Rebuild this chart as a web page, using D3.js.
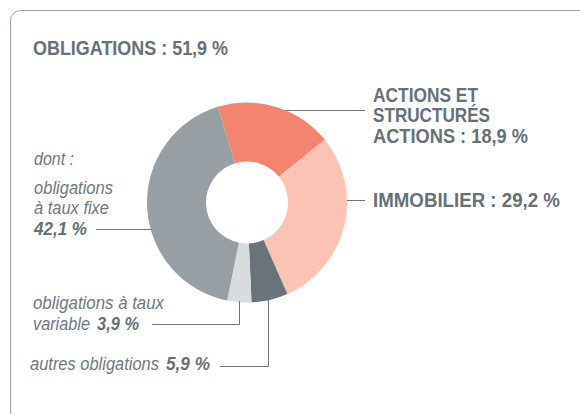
<!doctype html>
<html>
  <head>
    <meta charset="utf-8">
    <script src="https://cdn.jsdelivr.net/npm/d3@7/dist/d3.min.js"></script>
    <style>
      body { margin: 0; background: #fff; }
      text { font-family: "Liberation Sans", Arial, sans-serif; fill: #657077; }
      .big { font-weight: bold; font-size: 20.5px; }
      .small { font-style: italic; font-size: 17.5px; fill: #6e787e; }
      .num { font-weight: bold; fill: #657077; }
    </style>
  </head>
  <body>
    <div id="chart"></div>
    <script>
      // data
      var categories = ["ACTIONS ET STRUCTURÉS ACTIONS", "IMMOBILIER", "autres obligations",
                        "obligations à taux variable", "obligations à taux fixe"];
      var values = [18.9, 29.2, 5.9, 3.9, 42.1];
      var colors = ["#f4846f", "#fbc3b3", "#68737a", "#d8dcdf", "#979fa5"];
      var titleLabel = "OBLIGATIONS";
      var titleValue = 51.9;

      var fmt = function(v) { return d3.format(".1f")(v).replace(".", ",") + " %"; };

      var width = 580, height = 414;
      var cx = 247, cy = 202.5, R = 100, r = 41;

      var svg = d3.select("#chart")
        .append("svg")
        .attr("width", width)
        .attr("height", height);

      // frame
      svg.append("rect")
        .attr("x", 10.5).attr("y", 10.5)
        .attr("width", 600).attr("height", 430)
        .attr("rx", 10)
        .attr("fill", "none")
        .attr("stroke", "#9ba1a6")
        .attr("stroke-width", 1);

      // condensed look: squeeze each line to the width seen in the picture
      function label(cls, x, y, str, len) {
        return svg.append("text")
          .attr("class", cls)
          .attr("x", x).attr("y", y)
          .attr("textLength", len)
          .attr("lengthAdjust", "spacingAndGlyphs")
          .text(str);
      }

      // title
      label("big", 33, 54.5, titleLabel + " : " + fmt(titleValue), 195);

      var data = categories.map(function(c, i) { return {name: c, value: values[i], color: colors[i]}; });

      var start = -17 * Math.PI / 180;
      var pie = d3.pie()
        .sort(null)
        .value(function(d) { return d.value; })
        .startAngle(start)
        .endAngle(start + 2 * Math.PI);

      var arc = d3.arc().innerRadius(r).outerRadius(R);

      var g = svg.append("g").attr("transform", "translate(" + cx + "," + cy + ")");
      g.selectAll("path")
        .data(pie(data))
        .enter()
        .append("path")
        .attr("d", arc)
        .attr("fill", function(d) { return d.data.color; });

      // x / y on the outer edge of the ring
      function edgeX(y, side) { return cx + side * Math.sqrt(R * R - (y - cy) * (y - cy)); }
      function edgeY(x) { return cy + Math.sqrt(R * R - (x - cx) * (x - cx)); }

      var lineColor = "#6e777d";
      function poly(pts) {
        svg.append("path")
          .attr("d", d3.line()(pts))
          .attr("fill", "none")
          .attr("stroke", lineColor)
          .attr("stroke-width", 1);
      }

      // right labels
      var yA = 110.5;
      poly([[edgeX(yA, 1) - 1, yA], [365, yA]]);
      label("big", 373, 101.5, "ACTIONS ET", 105);
      label("big", 373, 122, "STRUCTURÉS", 117);
      label("big", 373, 142.5, "ACTIONS : " + fmt(values[0]), 155);

      var yI = 200.5;
      poly([[edgeX(yI, 1), yI], [365, yI]]);
      label("big", 373, 207, "IMMOBILIER : " + fmt(values[1]), 187);

      // left labels
      label("small", 34, 165, "dont :", 40);
      label("small", 34, 193.5, "obligations", 79);
      label("small", 34, 214, "à taux fixe", 75);
      label("small num", 34, 234.5, fmt(values[4]), 53);
      var yF = 229.5;
      poly([[96, yF], [edgeX(yF, -1) + 1, yF]]);

      label("small", 33, 308.5, "obligations à taux", 131);
      label("small", 33, 330, "variable", 57);
      label("small num", 97, 330, fmt(values[3]), 42);
      var xV = 239.5, yV = 324.5;
      poly([[152, yV], [xV, yV], [xV, edgeY(xV) - 1]]);

      label("small", 30, 370, "autres obligations", 129);
      label("small num", 166, 370, fmt(values[2]), 44);
      var xO = 268.5, yO = 366.5;
      poly([[220, yO], [xO, yO], [xO, edgeY(xO) - 1]]);
    </script>
  </body>
</html>
